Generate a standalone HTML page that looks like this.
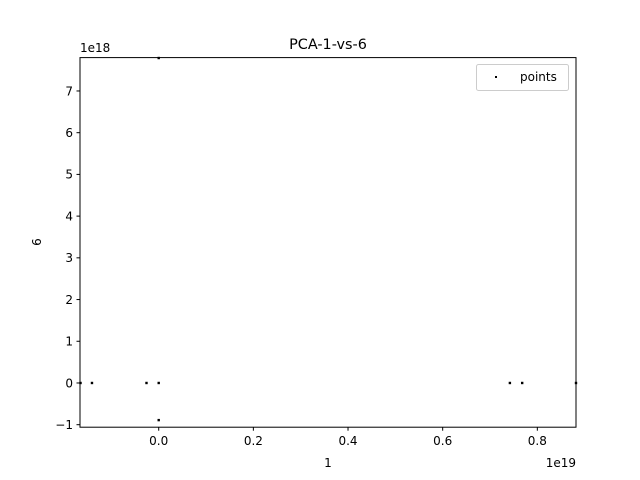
<!DOCTYPE html>
<html><head><meta charset="utf-8"><style>
body{margin:0;background:#fff;}
svg{display:block;font-family:"DejaVu Sans","Liberation Sans",sans-serif;}
</style></head><body>
<svg id="chart" width="640" height="480" viewBox="0 0 640 480">
<rect width="640" height="480" fill="#fff"/>
<text x="328" y="49" font-size="14.4" text-anchor="middle">PCA-1-vs-6</text>
<g id="marks"></g>
<g id="axes"></g>
<rect x="80" y="57.6" width="496" height="369.6" fill="none" stroke="#000" stroke-width="1"/>
<text x="328" y="467" font-size="12" text-anchor="middle">1</text>
<text x="41" y="242" font-size="12" text-anchor="middle" transform="rotate(-90 41 242)">6</text>
<text x="576" y="467" font-size="12" text-anchor="end">1e19</text>
<text x="80" y="52" font-size="12">1e18</text>
<g>
<rect x="476.5" y="64.5" width="92" height="26" rx="2" fill="#fff" stroke="#ccc"/>
<rect x="495" y="76" width="2" height="2" fill="#000"/>
<text x="520" y="81" font-size="12">points</text>
</g>
</svg>
<script>
const xVals=[-0.1652,-0.141,-0.0258,0,0,0,0.742,0.768,0.8817];
const yVals=[0,0,0,0,7.79,-0.89,0,0,0];
const xTicks=[0,0.2,0.4,0.6,0.8];
const xTickLabels=["0.0","0.2","0.4","0.6","0.8"];
const yTicks=[-1,0,1,2,3,4,5,6,7];
const yTickLabels=["−1","0","1","2","3","4","5","6","7"];
const xMin=-0.1663,xMax=0.8817,yMin=-1.06,yMax=7.80;
const L=80,R=576,T=57.6,B=427.2;
const sx=v=>L+(v-xMin)/(xMax-xMin)*(R-L);
const sy=v=>B-(v-yMin)/(yMax-yMin)*(B-T);
const NS="http://www.w3.org/2000/svg";
const marks=document.getElementById('marks'),axes=document.getElementById('axes');
xVals.forEach((x,i)=>{
 const r=document.createElementNS(NS,'rect');
 r.setAttribute('x',sx(x)-1.2);r.setAttribute('y',sy(yVals[i])-1.2);
 r.setAttribute('width',2.4);r.setAttribute('height',2.4);r.setAttribute('fill','#000');
 
 
 marks.appendChild(r);
});
xTicks.forEach((t,i)=>{
 const x=sx(t);
 const l=document.createElementNS(NS,'line');
 l.setAttribute('x1',x);l.setAttribute('x2',x);l.setAttribute('y1',B);l.setAttribute('y2',B+3.5);l.setAttribute('stroke','#000');
 
 
 axes.appendChild(l);
 const tx=document.createElementNS(NS,'text');
 tx.setAttribute('x',x);tx.setAttribute('y',B+18);tx.setAttribute('font-size','12');tx.setAttribute('text-anchor','middle');
 tx.textContent=xTickLabels[i];
 
 
 axes.appendChild(tx);
});
yTicks.forEach((t,i)=>{
 const y=sy(t);
 const l=document.createElementNS(NS,'line');
 l.setAttribute('x1',L-3.5);l.setAttribute('x2',L);l.setAttribute('y1',y);l.setAttribute('y2',y);l.setAttribute('stroke','#000');
 
 
 axes.appendChild(l);
 const tx=document.createElementNS(NS,'text');
 tx.setAttribute('x',L-7);tx.setAttribute('y',y+4.3);tx.setAttribute('font-size','12');tx.setAttribute('text-anchor','end');
 tx.textContent=yTickLabels[i];
 
 
 axes.appendChild(tx);
});
</script>
</body></html>
